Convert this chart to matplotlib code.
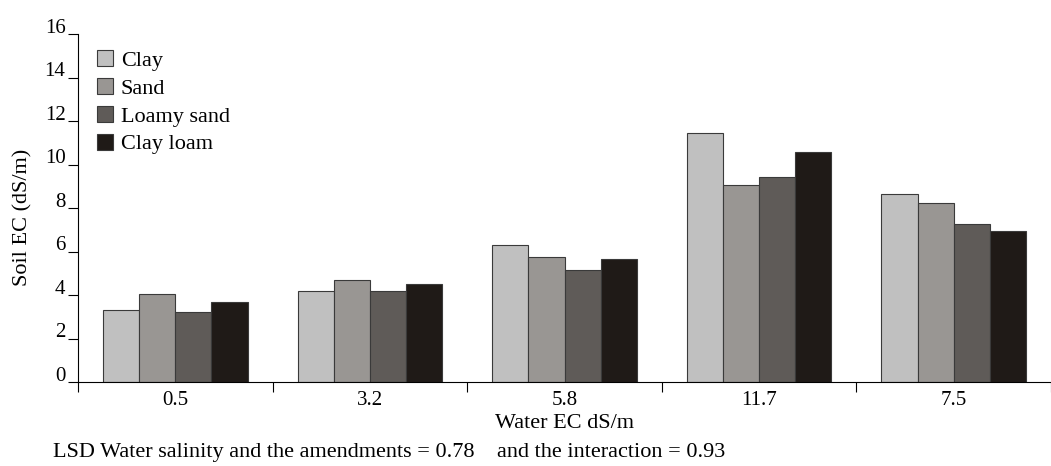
import matplotlib.pyplot as plt
from matplotlib.transforms import ScaledTranslation
import numpy as np

plt.rcParams["font.family"] = ["Liberation Serif", "DejaVu Serif"]

water_ec = ["0.5", "3.2", "5.8", "11.7", "7.5"]
soils = ["Clay", "Sand", "Loamy sand", "Clay loam"]
clay = [3.30, 4.17, 6.28, 11.45, 8.65]
sand = [4.05, 4.68, 5.73, 9.07, 8.23]
loamy_sand = [3.21, 4.17, 5.15, 9.42, 7.26]
clay_loam = [3.70, 4.49, 5.67, 10.57, 6.96]
colours = ["#c0c0c0", "#999693", "#5f5b58", "#1f1a17"]

series = [clay, sand, loamy_sand, clay_loam]
FS = 16

fig = plt.figure(figsize=(10.51, 4.66), dpi=100)
# axes from x=78px to the right edge, y from 382px up to 34px
ax = fig.add_axes([78 / 1051, 84 / 466, 973 / 1051, 348 / 466])

x = np.arange(len(water_ec))
width = 0.186
for i, (vals, name, col) in enumerate(zip(series, soils, colours)):
    ax.bar(x + (i - 1.5) * width, vals, width, color=col, edgecolor="#3a3a3a",
           linewidth=0.8, label=name)

ax.set_xlim(-0.5, -0.5 + 973 / 194.75)
ax.set_ylim(0, 16)
ax.set_yticks(range(0, 17, 2))
ax.tick_params(axis="y", direction="out", length=7.5, width=0.8, labelsize=15, pad=1.5)
# tick labels in the original sit a little above their ticks
for lab in ax.get_yticklabels():
    lab.set_transform(lab.get_transform() + ScaledTranslation(0, 6 / 72, fig.dpi_scale_trans))
ax.set_xticks(x)
ax.set_xticklabels(water_ec)
ax.set_xticks(np.arange(-0.5, len(water_ec)), minor=True)
ax.tick_params(axis="x", which="major", length=0, labelsize=15, pad=6.5)
ax.tick_params(axis="x", which="minor", direction="out", length=7.5, width=0.8)
for s in ["top", "right"]:
    ax.spines[s].set_visible(False)
ax.spines["left"].set_linewidth(0.8)
ax.spines["bottom"].set_linewidth(0.8)

ax.set_ylabel("Soil EC (dS/m)", fontsize=FS)
ax.yaxis.set_label_coords(-0.047, 0.474)
ax.set_xlabel("Water EC dS/m", fontsize=FS, labelpad=3)
fig.text(53 / 1051, 9 / 466,
         "LSD Water salinity and the amendments = 0.78    and the interaction = 0.93",
         fontsize=FS, ha="left", va="baseline")

ax.legend(loc="upper left", bbox_to_anchor=(19 / 972, 0.953), frameon=False, fontsize=FS,
          handlelength=0.72, handleheight=0.72, handletextpad=0.35, labelspacing=0.32,
          borderaxespad=0, borderpad=0)

fig.savefig("out.png", dpi=100)
